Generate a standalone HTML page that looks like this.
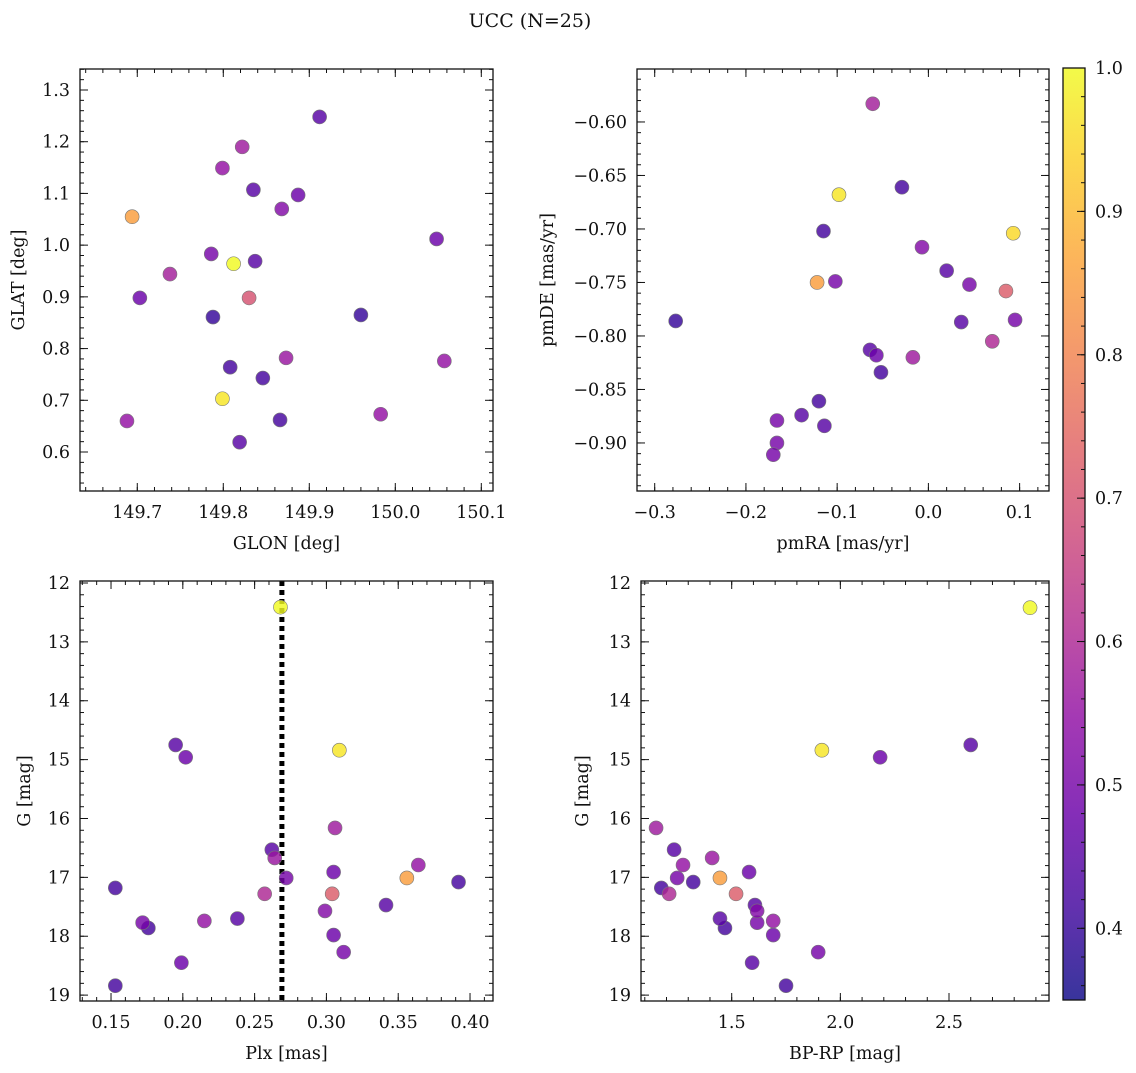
<!DOCTYPE html>
<html><head><meta charset="utf-8"><style>
body{margin:0;background:#fff;}
svg text{font-family:"DejaVu Serif","Liberation Serif",serif;font-size:17.5px;fill:#111;}
svg text.title{font-size:19px;}
</style></head><body>
<svg id="fig" width="1136" height="1068" xmlns="http://www.w3.org/2000/svg">
<defs><linearGradient id="cbg" x1="0" y1="1" x2="0" y2="0"></linearGradient></defs>
<text class="title" x="530" y="27" text-anchor="middle">UCC (N=25)</text>
</svg>
<script>
// ---- data ----
const glon=[149.688,149.703,149.738,149.694,149.786,149.799,149.822,149.835,149.812,149.837,149.830,149.788,149.808,149.846,149.799,149.819,149.866,149.873,149.868,149.887,149.912,149.960,149.983,150.048,150.057];
const glat=[0.66,0.898,0.944,1.055,0.983,1.149,1.19,1.107,0.964,0.969,0.898,0.861,0.764,0.743,0.703,0.619,0.662,0.782,1.07,1.097,1.248,0.865,0.673,1.012,0.776];
const probTL=[0.55,0.48,0.58,0.85,0.5,0.55,0.57,0.45,1.0,0.45,0.7,0.4,0.42,0.42,0.97,0.45,0.42,0.56,0.52,0.48,0.45,0.4,0.55,0.48,0.55];
const pmra=[-0.061,-0.098,-0.029,-0.115,0.093,-0.007,0.02,-0.122,-0.102,0.045,0.085,-0.277,0.036,0.095,0.07,-0.017,-0.064,-0.057,-0.052,-0.12,-0.139,-0.114,-0.166,-0.166,-0.17];
const pmde=[-0.583,-0.668,-0.661,-0.702,-0.704,-0.717,-0.739,-0.750,-0.749,-0.752,-0.758,-0.786,-0.787,-0.785,-0.805,-0.82,-0.813,-0.818,-0.834,-0.861,-0.874,-0.884,-0.879,-0.90,-0.911];
const probTR=[0.58,0.97,0.42,0.42,0.95,0.52,0.45,0.85,0.5,0.5,0.72,0.4,0.45,0.5,0.6,0.57,0.45,0.48,0.42,0.42,0.45,0.45,0.5,0.5,0.5];
const plx=[0.268,0.195,0.202,0.309,0.306,0.262,0.264,0.272,0.305,0.364,0.356,0.392,0.153,0.257,0.304,0.172,0.176,0.215,0.238,0.3415,0.299,0.305,0.312,0.199,0.153];
const gmagL=[12.41,14.75,14.96,14.84,16.16,16.53,16.67,17.01,16.91,16.79,17.01,17.08,17.18,17.28,17.28,17.77,17.86,17.74,17.70,17.47,17.57,17.98,18.27,18.45,18.84];
const probBL=[1.0,0.45,0.48,0.97,0.57,0.45,0.56,0.5,0.48,0.55,0.85,0.42,0.42,0.6,0.72,0.5,0.42,0.55,0.45,0.45,0.52,0.48,0.5,0.48,0.42];
const bprp=[2.873,1.915,2.6,2.183,1.152,1.235,1.41,1.276,1.58,1.446,1.249,1.323,1.176,1.212,1.52,1.607,1.617,1.446,1.617,1.691,1.469,1.691,1.898,1.594,1.75];
const gmagR=[12.42,14.84,14.75,14.96,16.16,16.53,16.67,16.79,16.91,17.01,17.01,17.08,17.18,17.28,17.28,17.47,17.57,17.70,17.77,17.74,17.86,17.98,18.27,18.45,18.84];
const probBR=[1.0,0.97,0.45,0.48,0.57,0.45,0.56,0.55,0.48,0.85,0.5,0.42,0.42,0.6,0.72,0.45,0.52,0.45,0.5,0.55,0.42,0.48,0.5,0.45,0.42];
const plxMean=[0.269];
const cbTicks=[0.4,0.5,0.6,0.7,0.8,0.9,1.0];

const NS="http://www.w3.org/2000/svg";
const svg=document.getElementById('fig');
function mk(tag,attrs,parent){const e=document.createElementNS(NS,tag);for(const k in attrs)e.setAttribute(k,attrs[k]);(parent||svg).appendChild(e);return e;}
const stops=[[13,8,135],[65,4,157],[106,0,168],[143,13,164],[177,42,144],[204,71,120],[225,100,98],[242,132,75],[252,166,54],[252,206,37],[240,249,33]];
function plasma(t){t=Math.max(0,Math.min(1,t));const f=t*10,i=Math.min(9,Math.floor(f)),u=f-i;const a=stops[i],b=stops[i+1];return 'rgb('+a.map((v,k)=>Math.round(v+(b[k]-v)*u)).join(',')+')';}
const VMIN=0.35,VMAX=1.0;
function fmt(v,d){let s=Math.abs(v).toFixed(d);return (v<-1e-9?'\u2212':'')+s;}

function panel(o){
  const g=mk('g',{});
  
  
  const sx=v=>o.x0+(v-o.xmin)/(o.xmax-o.xmin)*(o.x1-o.x0);
  const sy=o.inv?(v=>o.y0+(v-o.ymin)/(o.ymax-o.ymin)*(o.y1-o.y0)):(v=>o.y1-(v-o.ymin)/(o.ymax-o.ymin)*(o.y1-o.y0));
  const tk=mk('g',{stroke:'#111','stroke-width':1},g);
  
  
  function xt(step,len){for(let v=Math.ceil(o.xmin/step-1e-6)*step;v<=o.xmax+1e-9;v+=step){const x=sx(v);mk('line',{x1:x,x2:x,y1:o.y1,y2:o.y1-len},tk);mk('line',{x1:x,x2:x,y1:o.y0,y2:o.y0+len},tk);}}
  function yt(lo,hi,step,len){for(let v=Math.ceil(lo/step-1e-6)*step;v<=hi+1e-9;v+=step){const y=sy(v);mk('line',{x1:o.x0,x2:o.x0+len,y1:y,y2:y},tk);mk('line',{x1:o.x1,x2:o.x1-len,y1:y,y2:y},tk);}}
  const ylo=Math.min(o.ymin,o.ymax),yhi=Math.max(o.ymin,o.ymax);
  xt(o.xminor,4);xt(o.xmajor,8);yt(ylo,yhi,o.yminor,4);yt(ylo,yhi,o.ymajor,8);
  for(let v=Math.ceil(o.xmin/o.xmajor-1e-6)*o.xmajor;v<=o.xmax+1e-9;v+=o.xmajor){
    const t=mk('text',{x:sx(v),y:o.y1+27,'text-anchor':'middle'},g);t.textContent=fmt(v,o.xdec);
    
    
  }
  for(let v=Math.ceil(ylo/o.ymajor-1e-6)*o.ymajor;v<=yhi+1e-9;v+=o.ymajor){
    const t=mk('text',{x:o.x0-10,y:sy(v)+6,'text-anchor':'end'},g);t.textContent=fmt(v,o.ydec);
    
    
  }
  const xl=mk('text',{x:(o.x0+o.x1)/2,y:o.y1+58,'text-anchor':'middle'},g);xl.textContent=o.xlabel;
  
  
  const yx=o.ylx,yy=(o.y0+o.y1)/2;
  const yl=mk('text',{x:yx,y:yy,'text-anchor':'middle',transform:'rotate(-90 '+yx+' '+yy+')'},g);yl.textContent=o.ylabel;
  
  
  if(o.vline){for(const v of o.vline){const l=mk('line',{x1:sx(v),x2:sx(v),y1:o.y0,y2:o.y1,stroke:'#000','stroke-width':5,'stroke-dasharray':'5 4'},g);
    
    }}
  const idx=o.xs.map((_,i)=>i).sort((a,b)=>o.c[a]-o.c[b]);
  for(const i of idx){
    const c=mk('circle',{cx:sx(o.xs[i]),cy:sy(o.ys[i]),r:7,fill:plasma((o.c[i]-VMIN)/(VMAX-VMIN)),'fill-opacity':0.82,stroke:'#777','stroke-width':0.6},g);
    
    
  }
  const fr=mk('rect',{x:o.x0,y:o.y0,width:o.x1-o.x0,height:o.y1-o.y0,fill:'none',stroke:'#111','stroke-width':1.3},g);
  
  
}
panel({name:'glon-glat-panel',x0:80,x1:493,y0:69,y1:491,xmin:149.6334,xmax:150.1136,ymin:0.5246,ymax:1.3406,xmajor:0.1,xminor:0.02,ymajor:0.1,yminor:0.02,xdec:1,ydec:1,xlabel:'GLON [deg]',ylabel:'GLAT [deg]',ylx:24,xs:glon,ys:glat,c:probTL});
panel({name:'pm-panel',x0:637,x1:1049,y0:69,y1:491,xmin:-0.3194,xmax:0.1322,ymin:-0.9449,ymax:-0.5505,xmajor:0.1,xminor:0.02,ymajor:0.05,yminor:0.01,xdec:1,ydec:2,xlabel:'pmRA [mas/yr]',ylabel:'pmDE [mas/yr]',ylx:553,xs:pmra,ys:pmde,c:probTR});
panel({name:'plx-g-panel',x0:80,x1:493,y0:581,y1:1001,inv:true,xmin:0.1284,xmax:0.4160,ymin:11.966,ymax:19.10,xmajor:0.05,xminor:0.01,ymajor:1,yminor:0.2,xdec:2,ydec:0,xlabel:'Plx [mas]',ylabel:'G [mag]',ylx:30,xs:plx,ys:gmagL,c:probBL,vline:plxMean});
panel({name:'cmd-panel',x0:641,x1:1049,y0:581,y1:1001,inv:true,xmin:1.0826,xmax:2.9602,ymin:11.966,ymax:19.10,xmajor:0.5,xminor:0.1,ymajor:1,yminor:0.2,xdec:1,ydec:0,xlabel:'BP-RP [mag]',ylabel:'G [mag]',ylx:588,xs:bprp,ys:gmagR,c:probBR});
const grad=document.getElementById('cbg');
for(let k=0;k<=10;k++){mk('stop',{offset:k/10,'stop-color':plasma(k/10),'stop-opacity':0.82},grad);}
const cb=mk('g',{});


const cbx0=1063,cbx1=1085,cby0=68,cby1=1000;
mk('rect',{x:cbx0,y:cby0,width:cbx1-cbx0,height:cby1-cby0,fill:'url(#cbg)'},cb);
const cy=v=>cby1-(v-VMIN)/(VMAX-VMIN)*(cby1-cby0);
for(let v=0.36;v<=1.0001;v+=0.02){mk('line',{x1:cbx1,x2:cbx1-4,y1:cy(v),y2:cy(v),stroke:'#111'},cb);}
for(const v of cbTicks){mk('line',{x1:cbx1,x2:cbx1-8,y1:cy(v),y2:cy(v),stroke:'#111'},cb);
  const t=mk('text',{x:cbx1+10,y:cy(v)+6},cb);t.textContent=v.toFixed(1);
  
  }
mk('rect',{x:cbx0,y:cby0,width:cbx1-cbx0,height:cby1-cby0,fill:'none',stroke:'#111','stroke-width':1.3},cb);
</script>
</body></html>
